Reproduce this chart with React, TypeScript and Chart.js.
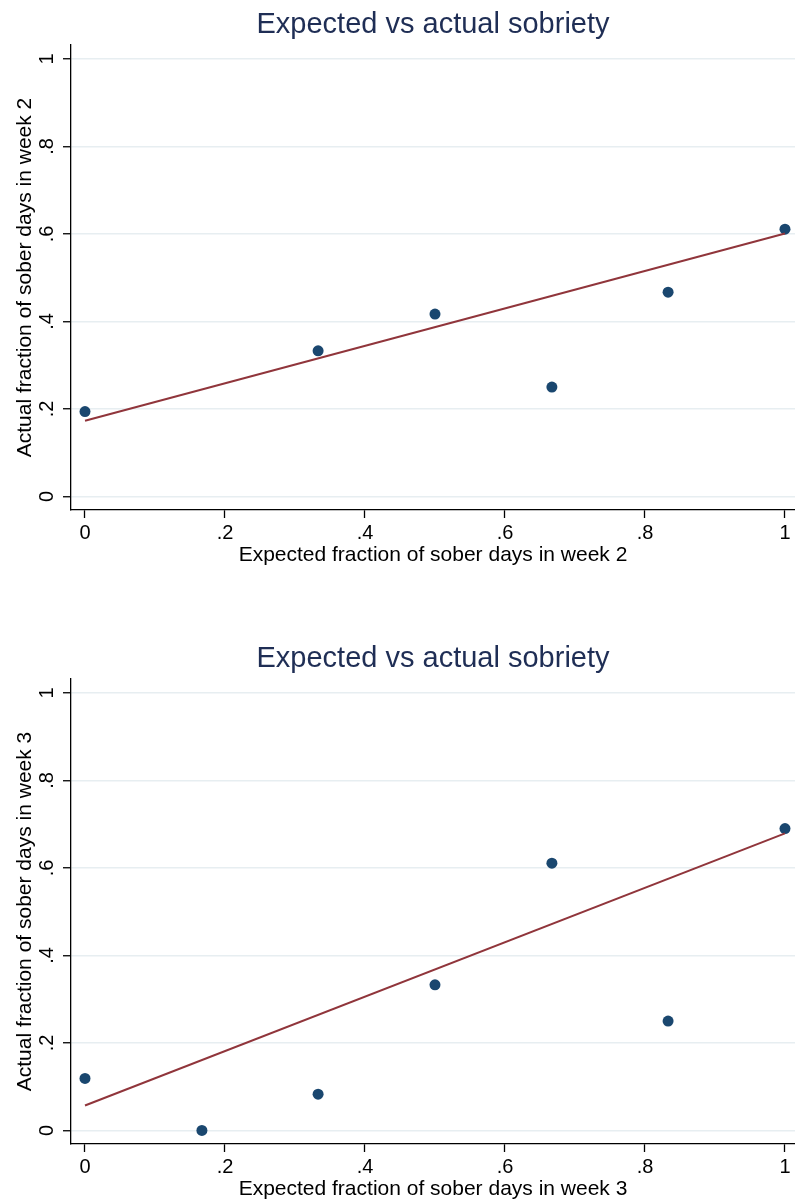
import React, { useEffect, useRef } from 'react';
import { Chart, registerables } from 'chart.js';

Chart.register(...registerables);

const FONT = "'Liberation Sans', Arial, Helvetica, sans-serif";
const TITLE_COLOR = '#1f2e55';
const MARKER_COLOR = '#1a476f';
const FIT_COLOR = '#90353b';
const GRID_COLOR = '#e7eef1';

const chartTitle = 'Expected vs actual sobriety';
const tickValues = [0, 0.2, 0.4, 0.6, 0.8, 1];
const tickLabels = ['0', '.2', '.4', '.6', '.8', '1'];

const week2Expected = [0, 0.333, 0.5, 0.667, 0.833, 1];
const week2Actual = [0.194, 0.333, 0.417, 0.25, 0.467, 0.611];
const week2FitX = [0, 1];
const week2FitY = [0.173, 0.601];

const week3Expected = [0, 0.167, 0.333, 0.5, 0.667, 0.833, 1];
const week3Actual = [0.119, 0, 0.083, 0.333, 0.611, 0.25, 0.69];
const week3FitX = [0, 1];
const week3FitY = [0.057, 0.679];

type Props = {
  xs: number[];
  ys: number[];
  fitX: number[];
  fitY: number[];
  xTitle: string;
  yTitle: string;
  top: number;
};

function SobrietyChart({ xs, ys, fitX, fitY, xTitle, yTitle, top }: Props) {
  const ref = useRef<HTMLCanvasElement | null>(null);

  useEffect(() => {
    if (!ref.current) return;
    const setTicks = (s: any) => {
      s.ticks = tickValues.map((v) => ({ value: v }));
    };
    const zeroPad = (s: any) => {
      s.paddingLeft = 0;
      s.paddingRight = 0;
      s.paddingTop = 0;
      s.paddingBottom = 0;
    };
    const chart = new Chart(ref.current, {
      type: 'scatter',
      data: {
        datasets: [
          {
            label: 'Fitted values',
            data: fitX.map((x, i) => ({ x, y: fitY[i] })),
            showLine: true,
            borderColor: FIT_COLOR,
            borderWidth: 2,
            pointRadius: 0,
            fill: false,
          } as any,
          {
            label: 'Actual',
            data: xs.map((x, i) => ({ x, y: ys[i] })),
            backgroundColor: MARKER_COLOR,
            borderColor: MARKER_COLOR,
            borderWidth: 0,
            pointRadius: 5.5,
          },
        ],
      },
      options: {
        animation: false,
        responsive: false,
        devicePixelRatio: 1,
        layout: { padding: 0, autoPadding: false },
        clip: false as any,
        plugins: {
          legend: { display: false },
          tooltip: { enabled: false },
          title: {
            display: true,
            text: chartTitle,
            fullSize: false,
            color: TITLE_COLOR,
            font: { family: FONT, size: 29, weight: 'normal', lineHeight: 1.2 },
            padding: { top: 7.5, bottom: 2.7 },
          },
        },
        scales: {
          x: {
            type: 'linear',
            min: -0.02,
            max: 1.0143,
            afterBuildTicks: setTicks,
            afterFit: (s: any) => {
              s.height = 90;
              zeroPad(s);
            },
            grid: {
              display: true,
              drawOnChartArea: false,
              drawTicks: true,
              tickLength: 8,
              tickColor: '#000',
              tickWidth: 1.3,
            },
            border: { display: true, color: '#000', width: 1.3 },
            ticks: {
              color: '#000',
              font: { family: FONT, size: 20 },
              padding: 3.5,
              minRotation: 0,
              maxRotation: 0,
              autoSkip: false,
              callback: (_v: any, i: number) => tickLabels[i],
            },
            title: {
              display: true,
              text: xTitle,
              color: '#000',
              font: { family: FONT, size: 21, lineHeight: 1.2 },
              padding: { top: 0, bottom: 32.4 },
            },
          },
          y: {
            type: 'linear',
            min: -0.031,
            max: 1.032,
            afterBuildTicks: setTicks,
            afterFit: (s: any) => {
              s.width = 71;
              zeroPad(s);
            },
            grid: {
              display: true,
              color: GRID_COLOR,
              lineWidth: 1.5,
              drawTicks: true,
              tickLength: 8,
              tickColor: '#000',
              tickWidth: 1.3,
            },
            border: { display: true, color: '#000', width: 1.3 },
            ticks: {
              color: '#000',
              font: { family: FONT, size: 20 },
              padding: 7,
              minRotation: 90,
              maxRotation: 90,
              crossAlign: 'center',
              autoSkip: false,
              callback: (_v: any, i: number) => tickLabels[i],
            },
            title: {
              display: true,
              text: yTitle,
              color: '#000',
              font: { family: FONT, size: 21, lineHeight: 1.2 },
              padding: { top: 12.4, bottom: 0 },
            },
          },
        },
      } as any,
    });
    return () => chart.destroy();
  }, [xs, ys, fitX, fitY, xTitle, yTitle]);

  return (
    <canvas
      ref={ref}
      width={795}
      height={600}
      style={{ position: 'absolute', left: 0, top, width: 795, height: 600, display: 'block' }}
    />
  );
}

export default function App() {
  return (
    <div
      style={{
        position: 'absolute',
        left: 0,
        top: 0,
        width: 795,
        height: 1201,
        overflow: 'hidden',
        background: '#fff',
      }}
    >
      <SobrietyChart
        xs={week2Expected}
        ys={week2Actual}
        fitX={week2FitX}
        fitY={week2FitY}
        xTitle="Expected fraction of sober days in week 2"
        yTitle="Actual fraction of sober days in week 2"
        top={0}
      />
      <SobrietyChart
        xs={week3Expected}
        ys={week3Actual}
        fitX={week3FitX}
        fitY={week3FitY}
        xTitle="Expected fraction of sober days in week 3"
        yTitle="Actual fraction of sober days in week 3"
        top={634}
      />
    </div>
  );
}
